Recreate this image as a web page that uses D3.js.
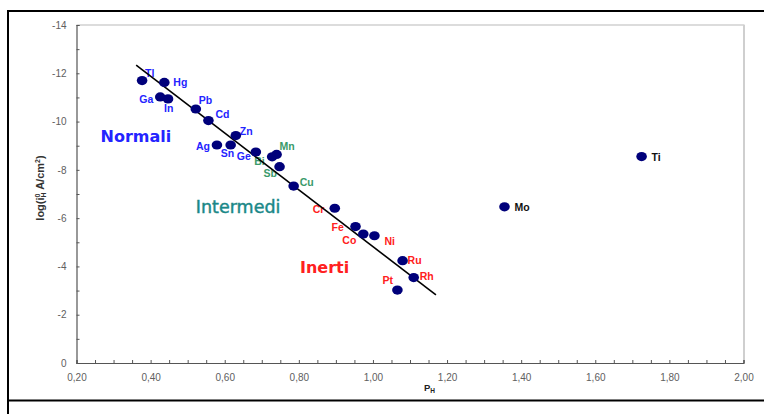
<!DOCTYPE html>
<html>
<head>
<meta charset="utf-8">
<script src="https://cdn.jsdelivr.net/npm/d3@7"></script>
<style>
  html, body { margin: 0; padding: 0; background: #fff; }
  svg { display: block; }
</style>
</head>
<body>
<svg id="chart" width="764" height="414"></svg>
<script>
// ---- data ----
const elements = ["Tl","Hg","Ga","In","Pb","Cd","Zn","Ag","Sn","Ge","Bi","Mn","Sb","Cu","Cr","Fe","Co","Ni","Ru","Rh","Pt","Mo","Ti"];
const pValues  = [0.377,0.437,0.426,0.447,0.522,0.556,0.630,0.579,0.616,0.684,0.728,0.740,0.748,0.786,0.897,0.953,0.974,1.004,1.080,1.110,1.066,1.355,1.725];
const logI0    = [-11.70,-11.62,-11.02,-10.94,-10.52,-10.04,-9.42,-9.03,-9.03,-8.74,-8.54,-8.64,-8.13,-7.33,-6.41,-5.65,-5.34,-5.27,-4.24,-3.54,-3.02,-6.47,-8.55];
const groups   = ["N","N","N","N","N","N","N","N","N","N","I","I","I","I","E","E","E","E","E","E","E","X","X"];
const trendX = [0.361, 1.170];
const trendY = [-12.34, -2.82];
const groupNames = ["Normali","Intermedi","Inerti"];
const groupAnchorX = [0.265, 0.522, 0.803];
const groupAnchorY = [-9.15, -6.20, -3.72];
const xTicks = [0.2,0.4,0.6,0.8,1.0,1.2,1.4,1.6,1.8,2.0];
const xTickLabels = ["0,20","0,40","0,60","0,80","1,00","1,20","1,40","1,60","1,80","2,00"];
const yTicks = [-14,-12,-10,-8,-6,-4,-2,0];
const yTickLabels = ["-14","-12","-10","-8","-6","-4","-2","0"];

// ---- layout / styles ----
const labelColor = { N: "#2424ff", I: "#3a9a6a", E: "#ff2020", X: "#111" };
const groupColor = ["#2424ff", "#1a8888", "#ff2020"];
const labelOffset = {
  Tl:[3,-4], Hg:[9,4], Ga:[-21,6], In:[-4,13], Pb:[3,-5], Cd:[7,-3], Zn:[4,-1],
  Ag:[-21,5], Sn:[-10,12], Ge:[-19,8], Bi:[-18,8], Mn:[3,-4], Sb:[-16,10], Cu:[6,0],
  Cr:[-22,5], Fe:[-24,4], Co:[-21,10], Ni:[10,9], Ru:[5,3], Rh:[6,2], Pt:[-15,-6],
  Mo:[10,4], Ti:[10,4]
};
const plot = { left: 76.5, right: 743.5, top: 25, bottom: 363 };

const svg = d3.select("#chart");

// outer frame
svg.append("line").attr("x1", 8).attr("x2", 764).attr("y1", 11).attr("y2", 11).attr("stroke", "#000").attr("stroke-width", 2);
svg.append("line").attr("x1", 8).attr("x2", 8).attr("y1", 10).attr("y2", 414).attr("stroke", "#000").attr("stroke-width", 2);
svg.append("line").attr("x1", 8).attr("x2", 764).attr("y1", 400.5).attr("y2", 400.5).attr("stroke", "#000").attr("stroke-width", 2);

const x = d3.scaleLinear().domain([0.2, 2.0]).range([plot.left, plot.right]);
const y = d3.scaleLinear().domain([0, -14]).range([plot.bottom, plot.top]);

// plot area border (top/right light gray)
svg.append("line").attr("x1", plot.left).attr("x2", plot.right + 1).attr("y1", plot.top).attr("y2", plot.top).attr("stroke", "#dcdcdc").attr("stroke-width", 2);
svg.append("line").attr("x1", plot.right + 0.5).attr("x2", plot.right + 0.5).attr("y1", plot.top).attr("y2", plot.bottom).attr("stroke", "#cfcfcf").attr("stroke-width", 2);

// minor ticks
const xMinor = d3.range(0.2, 2.0001, 0.05);
const yMinor = d3.range(0, -14.0001, -1);
const xMinorAxis = svg.append("g").attr("transform", `translate(0,${plot.bottom})`)
  .call(d3.axisBottom(x).tickValues(xMinor).tickSize(-3).tickFormat(""));
const yMinorAxis = svg.append("g").attr("transform", `translate(${plot.left},0)`)
  .call(d3.axisLeft(y).tickValues(yMinor).tickSize(-3).tickFormat(""));
[xMinorAxis, yMinorAxis].forEach(g => {
  g.select(".domain").attr("stroke", "#555").attr("stroke-width", 1.2);
  g.selectAll(".tick line").attr("stroke", "#555");
});

// labelled axes
const xAxis = svg.append("g").attr("transform", `translate(0,${plot.bottom})`)
  .call(d3.axisBottom(x).tickValues(xTicks).tickSize(0).tickPadding(11).tickFormat((d, i) => xTickLabels[i]));
const yAxis = svg.append("g").attr("transform", `translate(${plot.left},0)`)
  .call(d3.axisLeft(y).tickValues(yTicks).tickSize(0).tickPadding(10).tickFormat((d, i) => yTickLabels[i]));
[xAxis, yAxis].forEach(g => {
  g.select(".domain").remove();
  g.selectAll(".tick text").attr("fill", "#606060").attr("font-family", "Liberation Sans, Arial, sans-serif").attr("font-size", 10);
});

// axis titles
const yt = svg.append("text")
  .attr("transform", "translate(44,188) rotate(-90)")
  .attr("text-anchor", "middle")
  .attr("font-family", "Liberation Sans, Arial, sans-serif")
  .attr("font-size", 11).attr("font-weight", "bold").attr("fill", "#333");
yt.append("tspan").text("log(i");
yt.append("tspan").attr("font-size", 7).attr("dy", -4).text("0");
yt.append("tspan").attr("font-size", 7).attr("dy", 6).attr("dx", -4).text("H");
yt.append("tspan").attr("dy", -2).text(" A/cm");
yt.append("tspan").attr("font-size", 7).attr("dy", -4).text("2");
yt.append("tspan").attr("dy", 4).text(")");

const xt = svg.append("text")
  .attr("x", 424).attr("y", 391)
  .attr("font-family", "Liberation Sans, Arial, sans-serif")
  .attr("font-size", 9.5).attr("font-weight", "bold").attr("fill", "#222");
xt.append("tspan").text("P");
xt.append("tspan").attr("font-size", 6.5).attr("dy", 2).text("H");

// group labels
svg.selectAll("text.group").data(groupNames).enter().append("text")
  .attr("class", "group")
  .attr("x", (d, i) => x(groupAnchorX[i]))
  .attr("y", (d, i) => y(groupAnchorY[i]))
  .attr("font-family", "DejaVu Sans, Verdana, sans-serif")
  .attr("font-size", (d, i) => i === 1 ? 17.5 : 16)
  .attr("font-weight", (d, i) => i === 1 ? "normal" : "bold")
  .attr("fill", (d, i) => groupColor[i])
  .attr("stroke", (d, i) => i === 1 ? groupColor[i] : "none")
  .attr("stroke-width", 0.45)
  .text(d => d);

// point labels
const pts = elements.map((e, i) => ({ e, p: pValues[i], v: logI0[i], g: groups[i] }));
svg.selectAll("text.lbl").data(pts).enter().append("text")
  .attr("class", "lbl")
  .attr("x", d => x(d.p) + labelOffset[d.e][0])
  .attr("y", d => y(d.v) + labelOffset[d.e][1])
  .attr("font-family", "Liberation Sans, Arial, sans-serif")
  .attr("font-size", 10.5).attr("font-weight", "bold")
  .attr("fill", d => labelColor[d.g])
  .text(d => d.e);

// trend line
svg.append("line")
  .attr("x1", x(trendX[0])).attr("y1", y(trendY[0]))
  .attr("x2", x(trendX[1])).attr("y2", y(trendY[1]))
  .attr("stroke", "#000").attr("stroke-width", 1.6);

// points
svg.selectAll("ellipse.pt").data(pts).enter().append("ellipse")
  .attr("class", "pt")
  .attr("cx", d => x(d.p)).attr("cy", d => y(d.v))
  .attr("rx", 5.3).attr("ry", 4.6)
  .attr("fill", "#00007a");
</script>
</body>
</html>
